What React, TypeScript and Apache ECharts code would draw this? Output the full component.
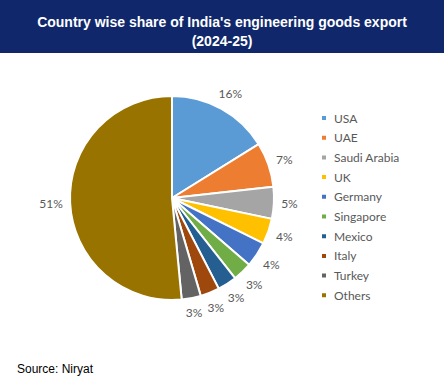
import React, { useEffect, useRef } from "react";
import * as echarts from "echarts";

const countries = ["USA", "UAE", "Saudi Arabia", "UK", "Germany", "Singapore", "Mexico", "Italy", "Turkey", "Others"];
const shares = [16, 7, 5, 4, 4, 3, 3, 3, 3, 51];
const colors = ["#5B9BD5", "#ED7D31", "#A5A5A5", "#FFC000", "#4472C4", "#70AD47", "#255E91", "#9E480E", "#636363", "#997300"];

const CX = 172;
const CY = 198;
const R = 102;
const GAP = 7;

export default function App() {
  const ref = useRef<HTMLDivElement>(null);
  useEffect(() => {
    if (!ref.current) return;
    const chart = echarts.init(ref.current, null, { renderer: "svg" });
    const total = shares.reduce((a, b) => a + b, 0);
    const mids: number[] = [];
    let acc = 0;
    shares.forEach((v) => {
      mids.push(((acc + v / 2) / total) * Math.PI * 2);
      acc += v;
    });
    chart.setOption({
      animation: false,
      backgroundColor: "#ffffff",
      graphic: [
        { type: "rect", left: 0, top: 0, shape: { width: 444, height: 53 }, style: { fill: "#10286B" }, z: -1 },
      ],
      title: {
        text: "Country wise share of India's engineering goods export\n(2024-25)",
        left: "center",
        top: 7,
        textStyle: { color: "#ffffff", fontSize: 14, fontWeight: "bold", fontFamily: "Arial, Liberation Sans", lineHeight: 19 },
      },
      legend: {
        orient: "vertical",
        left: 315,
        top: 107,
        itemWidth: 6,
        itemHeight: 6,
        itemGap: 7.7,
        icon: "rect",
        data: countries,
        textStyle: { fontSize: 12, color: "#595959", fontFamily: "Lato, 'Open Sans', sans-serif", padding: [0, 0, 0, 2] },
      },
      series: [
        {
          type: "pie",
          center: [CX, CY],
          radius: [0, R],
          startAngle: 90,
          clockwise: true,
          data: countries.map((n, i) => ({ name: n, value: shares[i], itemStyle: { color: colors[i] } })),
          itemStyle: { borderColor: "#ffffff", borderWidth: 2 },
          label: {
            show: true,
            position: "outside",
            formatter: "{c}%",
            fontSize: 12,
            color: "#595959",
            fontFamily: "Lato, 'Open Sans', sans-serif",
          },
          labelLine: { show: false, length: 8, length2: 0 },
          labelLayout: (params: any) => {
            const a = mids[params.dataIndex];
            const dx = Math.sin(a);
            const dy = -Math.cos(a);
            const w = params.labelRect.width;
            const h = params.labelRect.height;
            const r = R + GAP + Math.abs(dx) * w / 2 + Math.abs(dy) * h / 2;
            return { x: CX + r * dx, y: CY + r * dy, align: "center", verticalAlign: "middle", hideOverlap: false, moveOverlap: undefined };
          },
        },
      ],
    });
    return () => chart.dispose();
  }, []);
  return (
    <div style={{ position: "fixed", left: 0, top: 0, width: 444, height: 388, background: "#fff" }}>
      <div ref={ref} style={{ width: 444, height: 388 }} />
      <div style={{ position: "absolute", left: 17, top: 362, fontFamily: "Arial, 'Liberation Sans'", fontSize: 12, color: "#000" }}>Source: Niryat</div>
    </div>
  );
}
